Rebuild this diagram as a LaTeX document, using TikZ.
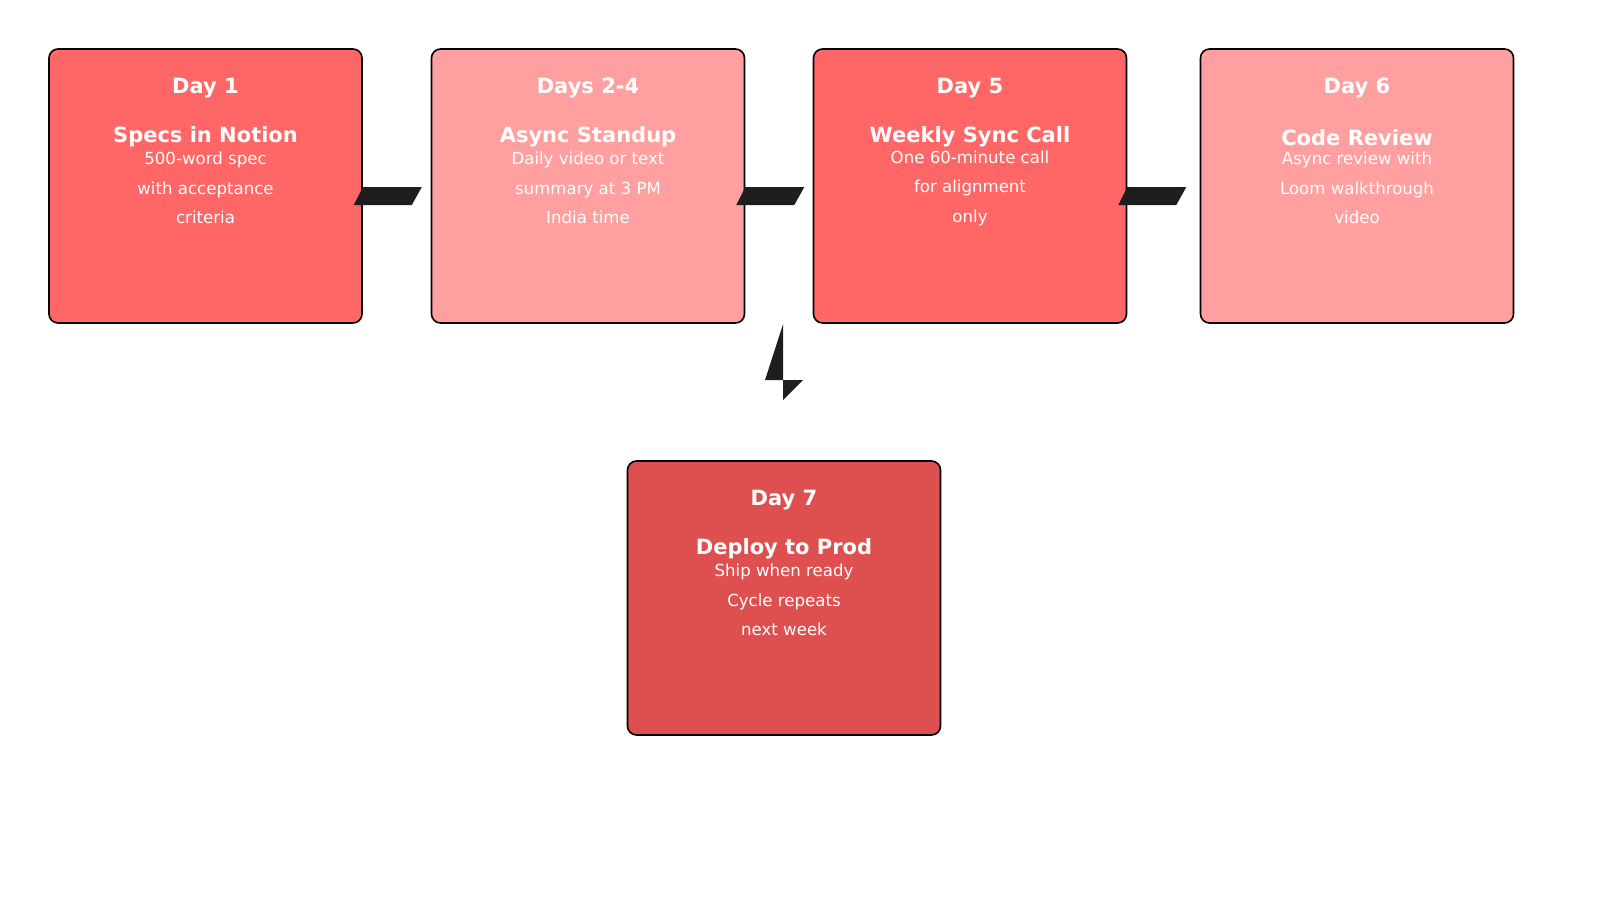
\documentclass[tikz,border=0pt]{standalone}
\usepackage{fontspec}
\setmainfont{DejaVu Sans}
\usetikzlibrary{positioning,calc}
\definecolor{cardA}{HTML}{FF6666}
\definecolor{cardB}{HTML}{FF9F9F}
\definecolor{cardC}{HTML}{DE4F4F}
\definecolor{linkgray}{HTML}{1E1E1E}

\newcommand{\card}[6]{%
\node[card, fill=#3] (#1) at #2 {};
\node[head] (#1_day) at ($(#1.north)+(0,40)$) {#4};
\node[head] (#1_title) at ($(#1.north)+(0,89)$) {#5};
\node[body] (#1_text) at ($(#1.north)+(0,140)$) {#6};
}

\begin{document}
\begin{tikzpicture}[x=0.5pt, y=-0.5pt,
card/.style={rectangle, rounded corners=4.5pt, draw=black, line width=0.8pt, minimum width=156.5pt, minimum height=137pt, inner sep=0pt},
head/.style={text=white, font=\fontsize{10.5}{12}\selectfont\bfseries},
body/.style={text=white, align=center, font=\fontsize{8.3}{14.75}\selectfont},
link/.style={fill=linkgray, draw=none},
]
\useasboundingbox (0,0) rectangle (1600,900);

\card{d1}{(205.5,186)}{cardA}{Day 1}{Specs in Notion}{500-word spec\\with acceptance\\criteria}
\card{d2}{(588,186)}{cardB}{Days 2-4}{Async Standup}{Daily video or text\\summary at 3 PM\\India time}
\card{d5}{(970,186)}{cardA}{Day 5}{Weekly Sync Call}{One 60-minute call\\for alignment\\only}
\card{d6}{(1357,186)}{cardB}{Day 6}{Code Review}{Async review with\\Loom walkthrough\\video}
\card{d7}{(784,598)}{cardC}{Day 7}{Deploy to Prod}{Ship when ready\\Cycle repeats\\next week}

%Links
\foreach \src in {d1,d2,d5}
  \fill[link] ($(\src.east)+(0,1)$) -- ++(59,0) -- ++(-10,18) -- ++(-58,0) -- cycle;

%Down link
\fill[link] ($(d7.north)+(-1,-136)$) -- ($(d7.north)+(-19,-80)$) -- ($(d7.north)+(19,-80)$) -- ($(d7.north)+(-1,-60)$) -- cycle;
\end{tikzpicture}
\end{document}
